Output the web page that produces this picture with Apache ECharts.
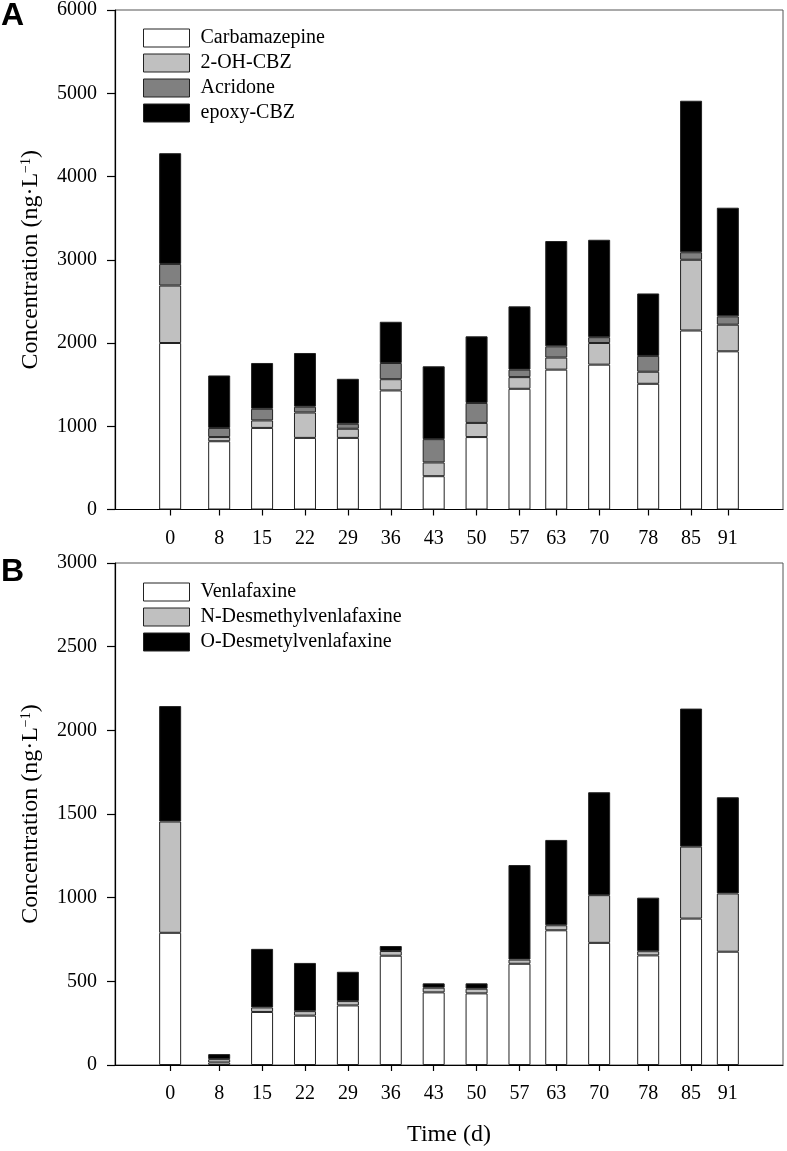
<!DOCTYPE html>
<html>
<head>
<meta charset="utf-8">
<script src="https://cdn.jsdelivr.net/npm/echarts@6/dist/echarts.min.js"></script>
<style>html,body{margin:0;padding:0;background:#fff}#c{width:787px;height:1151px}</style>
</head>
<body>
<div id="c"></div>
<script>
// Time points (days)
const days = [0, 8, 15, 22, 29, 36, 43, 50, 57, 63, 70, 78, 85, 91];
// Panel A (ng/L)
const carbamazepine = [2000, 820, 980, 860, 860, 1430, 400, 870, 1450, 1680, 1740, 1510, 2150, 1900];
const ohCBZ        = [690, 50, 90, 305, 110, 135, 165, 170, 140, 145, 260, 145, 850, 320];
const acridone     = [260, 110, 140, 70, 60, 195, 280, 240, 90, 135, 70, 190, 90, 100];
const epoxyCBZ     = [1330, 630, 550, 645, 540, 495, 875, 800, 760, 1265, 1170, 750, 1820, 1305];
// Panel B (ng/L)
const venlafaxine  = [790, 15, 317, 295, 356, 653, 434, 428, 605, 805, 730, 655, 875, 677];
const nDesmethyl   = [665, 20, 27, 27, 26, 28, 28, 28, 25, 30, 285, 25, 430, 348];
const oDesmetyl    = [690, 30, 350, 288, 175, 30, 26, 32, 565, 510, 615, 320, 825, 575];
// Axis ticks
const ticksA = [0, 1000, 2000, 3000, 4000, 5000, 6000];
const ticksB = [0, 500, 1000, 1500, 2000, 2500, 3000];

const serif = 'Liberation Serif';
const pair = arr => days.map((d, i) => [arr[i], d]);

function bar(name, arr, color, idx, stack) {
  return {
    name: name, type: 'bar', stack: stack,
    xAxisIndex: idx, yAxisIndex: idx,
    encode: { x: 1, y: 0 },
    data: pair(arr),
    barWidth: 22,
    itemStyle: { color: color, borderColor: '#222', borderWidth: 1 },
    emphasis: { disabled: true }
  };
}

function xAxis(idx, name) {
  return {
    type: 'value', gridIndex: idx, min: -9, max: 100,
    name: name, nameLocation: 'middle', nameGap: 58,
    nameTextStyle: { fontFamily: serif, fontSize: 24, color: '#000' },
    axisLine: { show: true, onZero: false, lineStyle: { color: '#000', width: 1.2 } },
    axisTick: { show: true, length: 6, customValues: days, lineStyle: { color: '#000', width: 1.2 } },
    axisLabel: { customValues: days, margin: 19, fontFamily: serif, fontSize: 20, color: '#000',
      formatter: v => String(v) },
    splitLine: { show: false }
  };
}

function yAxis(idx, ticks) {
  return {
    type: 'value', gridIndex: idx,
    min: ticks[0], max: ticks[ticks.length - 1], interval: ticks[1] - ticks[0],
    name: 'Concentration (ng·L{sup|−1})', nameLocation: 'middle', nameGap: 72,
    nameTextStyle: { fontFamily: serif, fontSize: 24, color: '#000',
      rich: { sup: { fontFamily: serif, fontSize: 14, color: '#000', verticalAlign: 'top' } } },
    axisLine: { show: true, onZero: false, lineStyle: { color: '#000', width: 1.2 } },
    axisTick: { show: true, length: 8, lineStyle: { color: '#000', width: 1.2 } },
    axisLabel: { margin: 18, fontFamily: serif, fontSize: 20, color: '#000',
      formatter: v => String(v) },
    splitLine: { show: false }
  };
}

function legend(top, names) {
  return {
    orient: 'vertical', left: 143, top: top, padding: 0,
    icon: 'rect', itemWidth: 46, itemHeight: 18, itemGap: 5,
    selectedMode: false,
    itemStyle: { borderColor: '#222', borderWidth: 1 },
    textStyle: { fontFamily: serif, fontSize: 20, color: '#000', padding: [0, 0, 0, 6] },
    data: names
  };
}

const chart = echarts.init(document.getElementById('c'));
chart.setOption({
  animation: false,
  backgroundColor: '#fff',
  grid: [
    { left: 115, right: 4, top: 8, height: 501.5, show: true, borderColor: '#555', borderWidth: 1 },
    { left: 115, right: 4, top: 563, height: 502, show: true, borderColor: '#555', borderWidth: 1 }
  ],
  xAxis: [xAxis(0, ''), xAxis(1, 'Time (d)')],
  yAxis: [yAxis(0, ticksA), yAxis(1, ticksB)],
  legend: [
    legend(28, ['Carbamazepine', '2-OH-CBZ', 'Acridone', 'epoxy-CBZ']),
    legend(582, ['Venlafaxine', 'N-Desmethylvenlafaxine', 'O-Desmetylvenlafaxine'])
  ],
  graphic: [
    { type: 'text', left: 1, top: 0, style: { text: 'A', fontFamily: 'Liberation Sans', fontWeight: 'bold', fontSize: 32, fill: '#000' } },
    { type: 'text', left: 1, top: 556, style: { text: 'B', fontFamily: 'Liberation Sans', fontWeight: 'bold', fontSize: 32, fill: '#000' } }
  ],
  series: [
    bar('Carbamazepine', carbamazepine, '#ffffff', 0, 'a'),
    bar('2-OH-CBZ', ohCBZ, '#c0c0c0', 0, 'a'),
    bar('Acridone', acridone, '#808080', 0, 'a'),
    bar('epoxy-CBZ', epoxyCBZ, '#000000', 0, 'a'),
    bar('Venlafaxine', venlafaxine, '#ffffff', 1, 'b'),
    bar('N-Desmethylvenlafaxine', nDesmethyl, '#c0c0c0', 1, 'b'),
    bar('O-Desmetylvenlafaxine', oDesmetyl, '#000000', 1, 'b')
  ]
});
</script>
</body>
</html>
